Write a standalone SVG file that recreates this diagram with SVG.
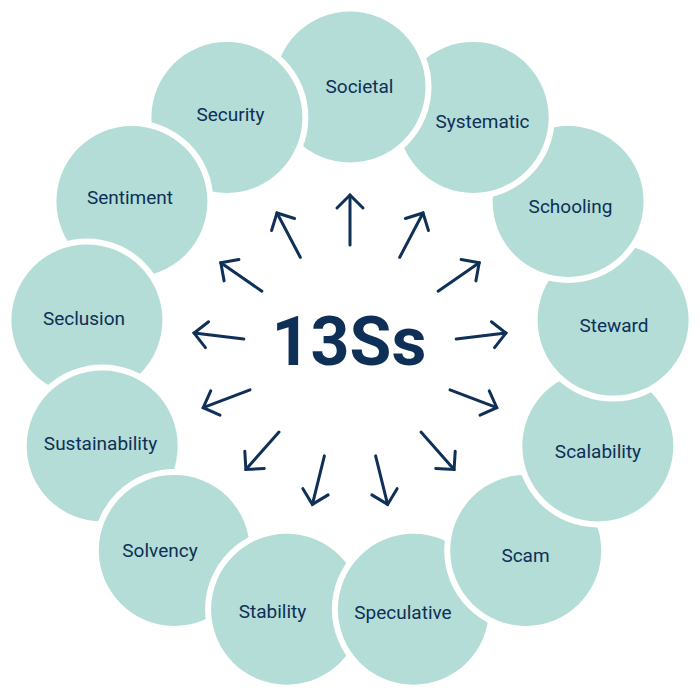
<svg xmlns="http://www.w3.org/2000/svg" xmlns:xlink="http://www.w3.org/1999/xlink" width="700" height="700" viewBox="0 0 700 700">
  <style>
    .c { fill: #B3DDD6; stroke: #FFFFFF; stroke-width: 12; paint-order: stroke; }
    .t { font-family: Roboto, "Liberation Sans", sans-serif; font-size: 19px; fill: #0E2F56; text-anchor: middle; }
    .title { font-family: Roboto, "Liberation Sans", sans-serif; font-size: 68px; font-weight: bold; fill: #0E2F56; text-anchor: middle; }
    .a { stroke: #0F3057; stroke-width: 3; stroke-linecap: round; fill: none; marker-end: url(#head); }
  </style>
  <defs>
    <marker id="head" markerUnits="userSpaceOnUse" orient="auto" refX="0" refY="0" markerWidth="40" markerHeight="40" viewBox="-20 -20 40 40" overflow="visible">
      <path d="M-13,-13 L0,0 L-13,13" fill="none" stroke="#0F3057" stroke-width="3" stroke-linecap="round" stroke-linejoin="miter"/>
    </marker>
    <clipPath id="clipSoc">
      <circle cx="350" cy="87" r="83"/>
    </clipPath>
  </defs>
  <rect width="700" height="700" fill="#FFFFFF"/>

  <g id="nodes">
    <g id="n-security"><circle class="c" cx="226.9" cy="117.4" r="75.5"/><text class="t" x="230.5" y="121">Security</text></g>
    <g id="n-sentiment"><circle class="c" cx="131.9" cy="201.5" r="75.5"/><text class="t" x="130" y="204">Sentiment</text></g>
    <g id="n-seclusion"><circle class="c" cx="86.9" cy="320.1" r="75.5"/><text class="t" x="84" y="325">Seclusion</text></g>
    <g id="n-sustainability"><circle class="c" cx="102.2" cy="446" r="75.5"/><text class="t" x="100.5" y="450">Sustainability</text></g>
    <g id="n-solvency"><circle class="c" cx="174.3" cy="550.4" r="75.5"/><text class="t" x="160" y="557">Solvency</text></g>
    <g id="n-stability"><circle class="c" cx="286.6" cy="609.3" r="75.5"/><text class="t" x="272.5" y="618">Stability</text></g>
    <g id="n-speculative"><circle class="c" cx="413.4" cy="609.3" r="75.5"/><text class="t" x="403" y="619">Speculative</text></g>
    <g id="n-scam"><circle class="c" cx="525.7" cy="550.4" r="75.5"/><text class="t" x="525.5" y="561.5">Scam</text></g>
    <g id="n-scalability"><circle class="c" cx="597.8" cy="446" r="75.5"/><text class="t" x="598" y="458">Scalability</text></g>
    <g id="n-steward"><circle class="c" cx="613.1" cy="320.1" r="75.5"/><text class="t" x="614" y="331.5">Steward</text></g>
    <g id="n-schooling"><circle class="c" cx="568.1" cy="201.5" r="75.5"/><text class="t" x="570.5" y="212.5">Schooling</text></g>
    <g id="n-systematic"><circle class="c" cx="473.2" cy="117.4" r="75.5"/><text class="t" x="482.5" y="128">Systematic</text></g>
    <g id="n-societal"><circle class="c" cx="350" cy="87" r="75.5"/><text class="t" x="359.5" y="93">Societal</text></g>
    <use xlink:href="#n-security" href="#n-security" clip-path="url(#clipSoc)"/>
  </g>

  <g id="center">
    <text class="title" x="349" y="365">13Ss</text>
  </g>

  <g id="connectors">
    <line class="a" x1="350" y1="245" x2="350" y2="195"/>
    <line class="a" x1="399.7" y1="257.3" x2="423" y2="213"/>
    <line class="a" x1="438.1" y1="291.2" x2="479.2" y2="262.8"/>
    <line class="a" x1="456.2" y1="339.1" x2="505.9" y2="333.1"/>
    <line class="a" x1="450" y1="389.9" x2="496.8" y2="407.7"/>
    <line class="a" x1="421" y1="432.1" x2="454.1" y2="469.5"/>
    <line class="a" x1="375.6" y1="455.9" x2="387.6" y2="504.4"/>
    <line class="a" x1="324.4" y1="455.9" x2="312.4" y2="504.4"/>
    <line class="a" x1="279" y1="432.1" x2="245.9" y2="469.5"/>
    <line class="a" x1="250" y1="389.9" x2="203.2" y2="407.7"/>
    <line class="a" x1="243.8" y1="339.1" x2="194.1" y2="333.1"/>
    <line class="a" x1="261.9" y1="291.2" x2="220.8" y2="262.8"/>
    <line class="a" x1="300.3" y1="257.3" x2="277" y2="213"/>
  </g>
</svg>
